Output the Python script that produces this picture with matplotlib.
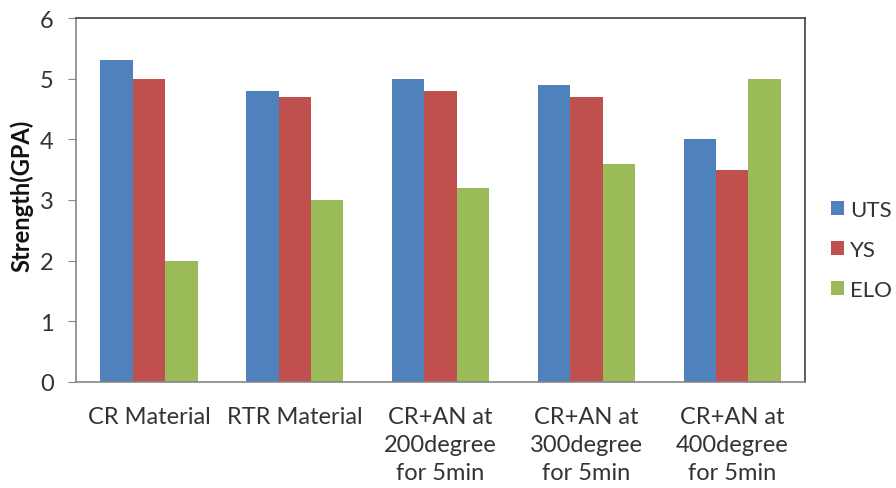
import matplotlib
matplotlib.use("Agg")
import matplotlib.pyplot as plt
import numpy as np

categories = ["CR Material", "RTR Material", "CR+AN at\n200degree\nfor 5min",
              "CR+AN at\n300degree\nfor 5min", "CR+AN at\n400degree\nfor 5min"]
series_names = ["UTS", "YS", "ELO"]
uts = [5.3, 4.8, 5.0, 4.9, 4.0]
ys = [5.0, 4.7, 4.8, 4.7, 3.5]
elo = [2.0, 3.0, 3.2, 3.6, 5.0]
colors = ["#4F81BD", "#C0504D", "#9BBB59"]

plt.rcParams['font.family'] = ['Lato', 'DejaVu Sans']
txt_color = '#333333'

fig = plt.figure(figsize=(8.96, 4.89), dpi=100)
ax = fig.add_axes([76/896, 1-383/489, (805-76)/896, (383-19)/489])

x = np.arange(len(categories))
w = 1/4.5
for i, (vals, name) in enumerate(zip([uts, ys, elo], series_names)):
    ax.bar(x + (i-1)*w, vals, width=w, color=colors[i], label=name)

ax.set_xlim(-0.5, len(categories)-0.5)
ax.set_ylim(0, 6)
ax.set_yticks(range(7))
ax.tick_params(axis='y', labelsize=17, length=6, color='#868686', pad=10, labelcolor=txt_color)
ax.tick_params(axis='x', labelsize=17, length=0, pad=17, labelcolor=txt_color)
ax.set_xticks(x)
ax.set_xticklabels(categories, linespacing=1.42, va='top')
ax.set_ylabel("Strength(GPA)", fontsize=17, fontweight='bold', color='#111111')
ax.yaxis.set_label_coords((33-76)/729, 0.514)

for s in ['left', 'bottom']:
    ax.spines[s].set_color('#868686')
    ax.spines[s].set_linewidth(1.2)
for s in ['top', 'right']:
    ax.spines[s].set_color('#404040')
    ax.spines[s].set_linewidth(1.2)

leg = ax.legend(loc='center left', bbox_to_anchor=(0.0, 0.49), frameon=False,
                fontsize=16, handlelength=0.6, handleheight=0.6, handletextpad=0.25,
                labelspacing=0.9, labelcolor=txt_color, borderaxespad=0, borderpad=0)
leg.set_bbox_to_anchor((831/896, 1-251/489), transform=fig.transFigure)

fig.savefig("out.png", dpi=100)
